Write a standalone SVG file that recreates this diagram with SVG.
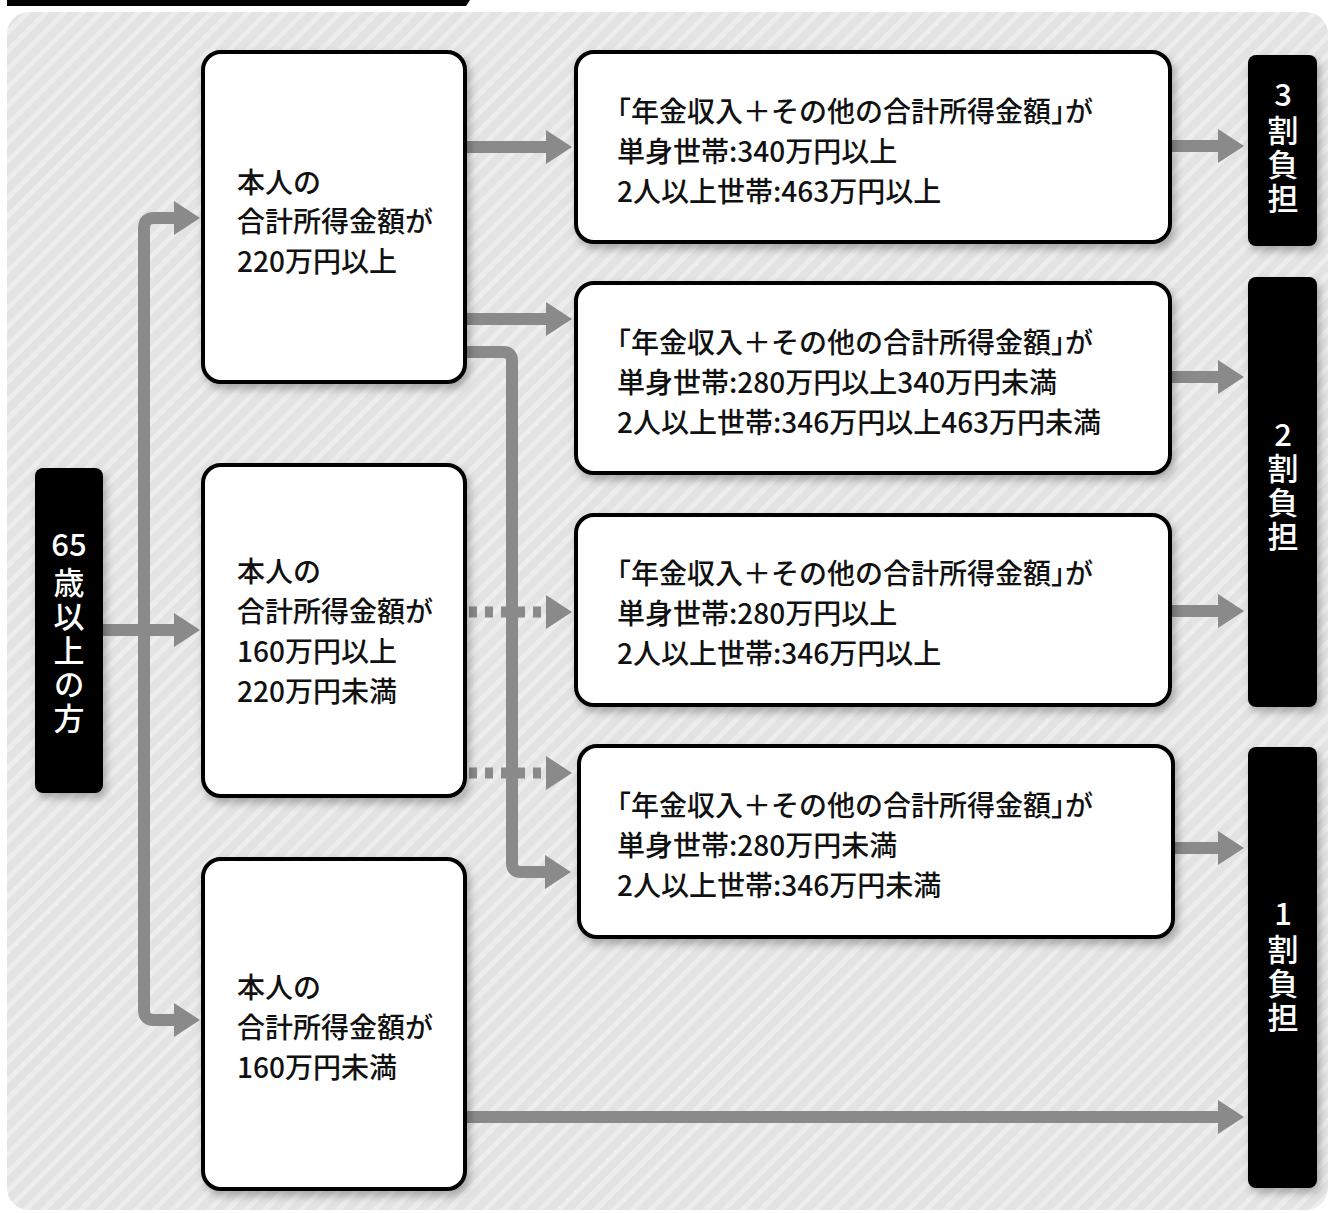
<svg xmlns="http://www.w3.org/2000/svg" width="1335" height="1213" viewBox="0 0 1335 1213">
<defs>
<pattern id="stripes" width="13" height="13" patternUnits="userSpaceOnUse" patternTransform="rotate(45)">
<rect width="13" height="13" fill="#e3e3e3"/>
<rect width="5" height="13" fill="#ededed"/>
</pattern>
<filter id="sh" x="-10%" y="-10%" width="130%" height="130%">
<feDropShadow dx="3" dy="5" stdDeviation="4" flood-color="#000" flood-opacity="0.28"/>
</filter>
<style>
.wb{fill:#fff;stroke:#000;stroke-width:4;filter:url(#sh)}
.bb{fill:#000;filter:url(#sh)}
.t{font-family:"Noto Sans CJK JP","Noto Sans",sans-serif;font-size:28px;font-weight:500;fill:#111}
.h{font-feature-settings:"halt"}
.v{font-family:"Noto Sans CJK JP","Noto Sans",sans-serif;font-size:31px;font-weight:500;fill:#fff;text-anchor:middle}
.vv{font-family:"Noto Sans CJK JP","Noto Sans",sans-serif;font-size:31px;font-weight:500;fill:#fff;writing-mode:vertical-rl;letter-spacing:3px}
.ln{fill:none;stroke:#8a8a8a;stroke-width:12}
.dl{fill:none;stroke:#8a8a8a;stroke-width:11;stroke-dasharray:8 8}
.hd{fill:#8a8a8a}
</style>
</defs>
<polygon points="7,0 470,0 466,6 7,6" fill="#000"/>
<rect x="7" y="12" width="1321" height="1198" rx="22" fill="url(#stripes)"/>

<g id="connectors">
<path class="ln" d="M103 630 H176"/>
<polygon class="hd" points="174,613 200,630 174,647"/>
<path class="ln" d="M176 218 H154 Q144 218 144 228 V1010 Q144 1020 154 1020 H176"/>
<polygon class="hd" points="174,201 200,218 174,235"/>
<polygon class="hd" points="174,1003 200,1020 174,1037"/>
<path class="ln" d="M467 147 H548"/>
<polygon class="hd" points="546,130 572,147 546,164"/>
<path class="ln" d="M467 319 H548"/>
<polygon class="hd" points="546,302 572,319 546,336"/>
<path class="dl" d="M469 612 H542"/>
<polygon class="hd" points="546,595 572,612 546,629"/>
<path class="dl" d="M469 773 H542"/>
<polygon class="hd" points="546,756 572,773 546,790"/>
<path class="ln" d="M467 352 H503 Q512 352 512 361 V863 Q512 872 521 872 H548"/>
<polygon class="hd" points="545,855 571,872 545,889"/>
<path class="ln" d="M1172 146 H1220"/>
<polygon class="hd" points="1218,129 1244,146 1218,163"/>
<path class="ln" d="M1172 377 H1220"/>
<polygon class="hd" points="1218,360 1244,377 1218,394"/>
<path class="ln" d="M1172 611 H1220"/>
<polygon class="hd" points="1218,594 1244,611 1218,628"/>
<path class="ln" d="M1175 848 H1220"/>
<polygon class="hd" points="1218,831 1244,848 1218,865"/>
<path class="ln" d="M467 1117 H1220"/>
<polygon class="hd" points="1218,1100 1244,1117 1218,1134"/>
</g>

<g id="age65">
<rect class="bb" x="35" y="468" width="68" height="325" rx="8"/>
<text class="v" x="69" y="556">65</text>
<text class="vv" x="69" y="567">歳以上の方</text>
</g>

<g id="inc220">
<rect class="wb" x="203" y="52" width="262" height="330" rx="18"/>
<text class="t" x="237" y="193">本人の</text>
<text class="t" x="237" y="232">合計所得金額が</text>
<text class="t" x="237" y="272">220万円以上</text>
</g>

<g id="inc160">
<rect class="wb" x="203" y="465" width="262" height="331" rx="18"/>
<text class="t" x="237" y="582">本人の</text>
<text class="t" x="237" y="622">合計所得金額が</text>
<text class="t" x="237" y="662">160万円以上</text>
<text class="t" x="237" y="702">220万円未満</text>
</g>

<g id="incLow">
<rect class="wb" x="203" y="859" width="262" height="330" rx="18"/>
<text class="t" x="237" y="998">本人の</text>
<text class="t" x="237" y="1038">合計所得金額が</text>
<text class="t" x="237" y="1078">160万円未満</text>
</g>

<g id="r1">
<rect class="wb" x="576" y="52" width="594" height="190" rx="18"/>
<text class="t h" x="617" y="122">「年金収入＋その他の合計所得金額」が</text>
<text class="t" x="617" y="162">単身世帯:340万円以上</text>
<text class="t" x="617" y="202">2人以上世帯:463万円以上</text>
</g>

<g id="r2">
<rect class="wb" x="576" y="283" width="594" height="190" rx="18"/>
<text class="t h" x="617" y="353">「年金収入＋その他の合計所得金額」が</text>
<text class="t" x="617" y="393">単身世帯:280万円以上340万円未満</text>
<text class="t" x="617" y="433">2人以上世帯:346万円以上463万円未満</text>
</g>

<g id="r3">
<rect class="wb" x="576" y="515" width="594" height="190" rx="18"/>
<text class="t h" x="617" y="584">「年金収入＋その他の合計所得金額」が</text>
<text class="t" x="617" y="624">単身世帯:280万円以上</text>
<text class="t" x="617" y="664">2人以上世帯:346万円以上</text>
</g>

<g id="r4">
<rect class="wb" x="579" y="746" width="594" height="191" rx="18"/>
<text class="t h" x="617" y="816">「年金収入＋その他の合計所得金額」が</text>
<text class="t" x="617" y="856">単身世帯:280万円未満</text>
<text class="t" x="617" y="896">2人以上世帯:346万円未満</text>
</g>

<g id="pay3">
<rect class="bb" x="1248" y="55" width="69" height="191" rx="8"/>
<text class="v" x="1283" y="106">3</text>
<text class="vv" x="1283" y="115">割負担</text>
</g>

<g id="pay2">
<rect class="bb" x="1248" y="277" width="69" height="430" rx="8"/>
<text class="v" x="1283" y="446">2</text>
<text class="vv" x="1283" y="453">割負担</text>
</g>

<g id="pay1">
<rect class="bb" x="1248" y="747" width="69" height="441" rx="8"/>
<text class="v" x="1283" y="925">1</text>
<text class="vv" x="1283" y="934">割負担</text>
</g>
</svg>
